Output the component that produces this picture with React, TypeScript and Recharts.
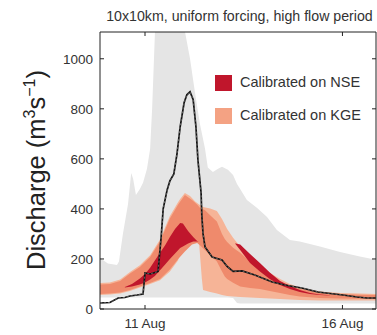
import React from 'react';
import { ComposedChart, Area, Line, XAxis, YAxis, Customized } from 'recharts';

const DAY_TICKS = [11, 16];
const Q_TICKS = [0, 200, 400, 600, 800, 1000];

// full ensemble spread (grey)
const ensDays = [9.86, 10.06, 10.29, 10.34, 10.44, 10.57, 10.65, 10.7, 10.77, 10.87, 10.95, 11.05, 11.13, 11.18, 11.25, 11.33, 11.63, 11.96, 12.01, 12.14, 12.27, 12.39, 12.52, 12.59, 12.72, 12.85, 12.95, 13.1, 13.23, 13.33, 13.41, 13.58, 13.84, 14.09, 14.34, 14.67, 14.92, 15.43, 15.94, 16.44, 16.87];
const ensLow = [46, 46, 46, 46, 46, 46, 46, 46, 46, 46, 46, 46, 46, 46, 46, 46, 46, 46, 46, 46, 46, 46, 46, 46, 46, 46, 46, 46, 44, 24, 22, 22, 22, 22, 22, 22, 22, 22, 22, 22, 22];
const ensHigh = [204, 182, 176, 190, 300, 420, 544, 520, 456, 480, 505, 560, 640, 800, 1100, 1250, 1300, 1250, 1110, 1000, 860, 740, 640, 565, 548, 560, 568, 556, 536, 500, 480, 436, 404, 368, 316, 276, 270, 250, 228, 210, 196];

// KGE calibrated, outer range
const kgeDays = [9.86, 10.11, 10.37, 10.62, 10.87, 11.13, 11.38, 11.63, 11.84, 11.89, 12.01, 12.14, 12.27, 12.37, 12.44, 12.47, 12.65, 12.82, 12.95, 13.08, 13.23, 13.41, 13.66, 13.91, 14.16, 14.42, 14.67, 14.92, 15.43, 15.94, 16.44, 16.87];
const kgeLow = [56, 58, 62, 72, 86, 100, 115, 150, 195, 240, 255, 265, 268, 262, 120, 76, 68, 62, 56, 52, 50, 48, 46, 44, 42, 40, 38, 36, 34, 34, 34, 34];
const kgeHigh = [104, 106, 118, 148, 175, 215, 278, 372, 428, 440, 464, 452, 430, 418, 412, 408, 402, 392, 360, 320, 285, 250, 210, 175, 145, 120, 100, 86, 70, 64, 62, 60];

// overlap of the two calibrations
const midDays = [9.86, 10.11, 10.37, 10.62, 10.87, 11.13, 11.38, 11.63, 11.84, 12.01, 12.19, 12.32, 12.39, 12.52, 12.65, 12.82, 12.95, 13.02, 13.08, 13.23, 13.41, 13.66, 13.91, 14.16, 14.42, 14.67, 14.92, 15.43, 15.94, 16.44, 16.87];
const midLow = [60, 62, 66, 76, 90, 104, 120, 158, 200, 230, 258, 264, 255, 235, 215, 190, 150, 130, 120, 105, 90, 84, 80, 72, 64, 56, 50, 44, 42, 41, 40];
const midHigh = [98, 100, 112, 142, 168, 208, 270, 362, 418, 456, 436, 418, 405, 395, 375, 350, 300, 280, 268, 245, 225, 190, 160, 132, 110, 94, 80, 66, 60, 57, 56];

// NSE calibrated
const nseDays = [10.49, 10.67, 10.87, 11.0, 11.13, 11.25, 11.38, 11.51, 11.63, 11.76, 11.89, 11.96, 12.09, 12.22, 12.32, 12.36, 13.28, 13.3, 13.41, 13.66, 13.91, 14.16, 14.42, 14.67, 14.92, 15.18, 15.43, 15.68];
const nseLow = [86, 90, 98, 106, 118, 132, 155, 178, 200, 222, 244, 250, 262, 270, 270, 270, 262, 258, 236, 184, 150, 120, 96, 80, 68, 60, 56, 54];
const nseHigh = [88, 100, 122, 140, 165, 194, 225, 255, 288, 320, 344, 342, 312, 288, 272, 270, 262, 262, 258, 220, 184, 146, 112, 92, 76, 64, 58, 55];

// observed discharge
const obsDays = [9.86, 10.11, 10.32, 10.49, 10.62, 10.8, 10.95, 10.98, 11.0, 11.13, 11.25, 11.33, 11.41, 11.46, 11.56, 11.63, 11.73, 11.81, 11.89, 11.99, 12.06, 12.14, 12.22, 12.29, 12.34, 12.42, 12.44, 12.47, 12.52, 12.7, 12.95, 13.08, 13.23, 13.46, 13.78, 14.22, 14.54, 14.97, 15.38, 16.01, 16.37, 16.62, 16.87];
const obsQ = [24, 26, 44, 46, 52, 56, 60, 110, 144, 140, 146, 150, 290, 400, 476, 512, 540, 620, 728, 824, 856, 868, 836, 728, 596, 464, 370, 300, 248, 208, 196, 170, 150, 152, 136, 108, 96, 84, 68, 56, 48, 44, 44];

const band = (xs: number[], lo: number[], hi: number[]) =>
  xs.map((x, i) => ({ x, r: [lo[i], hi[i]] }));

const ensData = band(ensDays, ensLow, ensHigh);
const kgeData = band(kgeDays, kgeLow, kgeHigh);
const midData = band(midDays, midLow, midHigh);
const nseData = band(nseDays, nseLow, nseHigh);
const obsData = obsDays.map((x, i) => ({ x, q: obsQ[i] }));

const FONT = '"Liberation Sans", Arial, sans-serif';
const NSE_COLOR = '#c0162c';
const KGE_COLOR = '#f6b497';
const MID_COLOR = '#ef8a6c';

const Overlay = () => (
  <g fontFamily={FONT}>
    <text x={239.5} y={21} textAnchor="middle" fontSize={14.2} fill="#333">
      10x10km, uniform forcing, high flow period
    </text>
    <text transform="translate(45,170) rotate(-90)" textAnchor="middle" fontSize={25.5} fill="#222">
      Discharge (m<tspan dy={-10} fontSize={16}>3</tspan>
      <tspan dy={10}>s</tspan>
      <tspan dy={-10} fontSize={16}>−1</tspan>
      <tspan dy={10}>)</tspan>
    </text>
    <rect x={215} y={75} width={17} height={16} fill={NSE_COLOR} />
    <text x={240} y={87} fontSize={14.5} fill="#333">Calibrated on NSE</text>
    <rect x={215} y={108} width={17} height={16} fill="#f4a283" />
    <text x={240} y={120} fontSize={14.5} fill="#333">Calibrated on KGE</text>
  </g>
);

export default function App() {
  const axisTick = { fill: '#333', fontSize: 13.5, fontFamily: FONT };
  return (
    <div style={{ position: 'absolute', left: 0, top: 0, width: 377, height: 335, background: '#fff' }}>
      <ComposedChart width={377} height={335} margin={{ top: 30, right: 0, bottom: 0, left: 0 }}>
        <XAxis
          dataKey="x"
          type="number"
          domain={[9.86, 16.85]}
          ticks={DAY_TICKS}
          tickFormatter={(d) => `${d} Aug`}
          allowDataOverflow
          height={26}
          tickSize={-4}
          tickMargin={13}
          stroke="#222"
          tick={axisTick}
        />
        <XAxis
          xAxisId="top"
          orientation="top"
          dataKey="x"
          type="number"
          domain={[9.86, 16.85]}
          ticks={DAY_TICKS}
          tickFormatter={() => ''}
          allowDataOverflow
          height={2}
          tickSize={-4}
          stroke="#222"
        />
        <YAxis
          type="number"
          domain={[0, 1107]}
          ticks={Q_TICKS}
          allowDataOverflow
          width={100}
          tickSize={-4}
          tickMargin={11}
          stroke="#222"
          tick={axisTick}
        />
        <YAxis
          yAxisId="right"
          orientation="right"
          type="number"
          domain={[0, 1107]}
          ticks={Q_TICKS}
          tickFormatter={() => ''}
          allowDataOverflow
          width={1}
          tickSize={-4}
          stroke="#222"
        />
        <Area data={ensData} dataKey="r" type="linear" fill="#e5e5e5" fillOpacity={1} stroke="none" isAnimationActive={false} />
        <Area data={kgeData} dataKey="r" type="linear" fill={KGE_COLOR} fillOpacity={1} stroke="none" isAnimationActive={false} />
        <Area data={midData} dataKey="r" type="linear" fill={MID_COLOR} fillOpacity={1} stroke="none" isAnimationActive={false} />
        <Area data={nseData} dataKey="r" type="linear" fill={NSE_COLOR} fillOpacity={1} stroke="none" isAnimationActive={false} />
        <Line data={obsData} dataKey="q" type="linear" stroke="#111" strokeWidth={1.7} dot={false} isAnimationActive={false} />
        <Line data={obsData} dataKey="q" type="linear" stroke="#9a9a9a" strokeWidth={0.6} strokeDasharray="2 2" dot={false} isAnimationActive={false} />
        <Customized component={Overlay} />
      </ComposedChart>
    </div>
  );
}
